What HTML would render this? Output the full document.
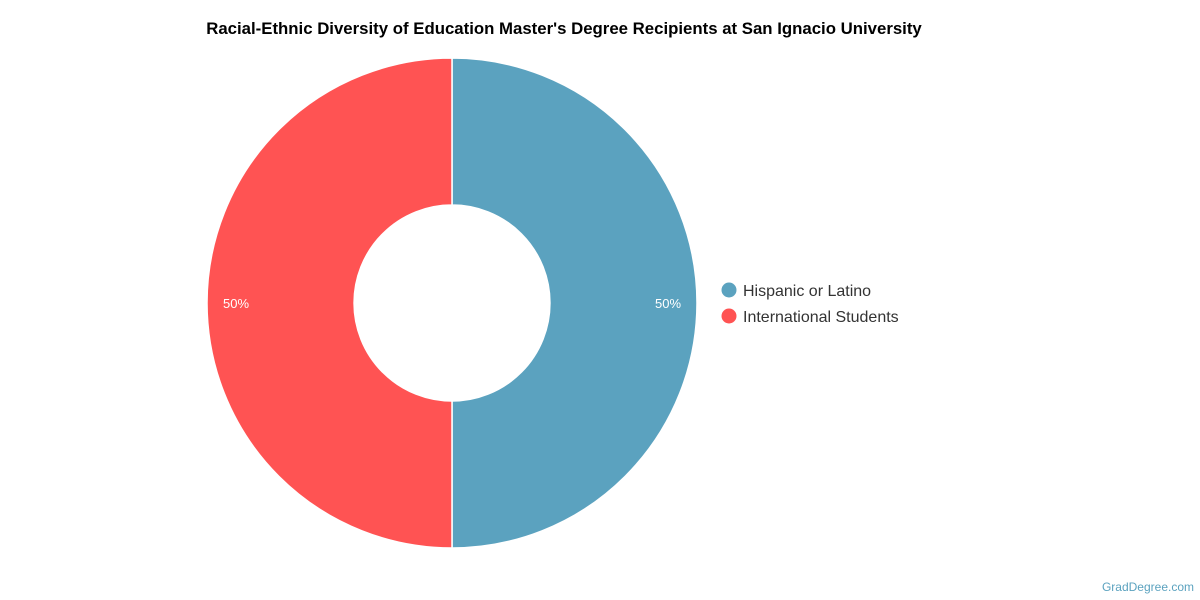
<!DOCTYPE html>
<html><head><meta charset="utf-8"><style>
body{margin:0;background:#fff;}
svg{display:block;font-family:"Liberation Sans",Arial,sans-serif;}
</style></head><body>
<svg width="1200" height="600" viewBox="0 0 1200 600">
<rect width="1200" height="600" fill="#fff"/>
<text x="564" y="34" text-anchor="middle" font-size="16.8" font-weight="bold" fill="#000">Racial-Ethnic Diversity of Education Master's Degree Recipients at San Ignacio University</text>
<path d="M452 58 A245 245 0 0 1 452 548 L452 401 A98 98 0 0 0 452 205 Z" fill="#5ba2bf" stroke="#fff" stroke-width="1.5"/>
<path d="M452 548 A245 245 0 0 1 452 58 L452 205 A98 98 0 0 0 452 401 Z" fill="#ff5353" stroke="#fff" stroke-width="1.5"/>
<text x="668" y="308" text-anchor="middle" font-size="13" fill="#fff">50%</text>
<text x="236" y="308" text-anchor="middle" font-size="13" fill="#fff">50%</text>
<circle cx="729" cy="290" r="7.5" fill="#5ba2bf"/>
<circle cx="729" cy="316" r="7.5" fill="#ff5353"/>
<text x="743" y="296" font-size="16" fill="#333">Hispanic or Latino</text>
<text x="743" y="322" font-size="16" fill="#333">International Students</text>
<text x="1194" y="591" text-anchor="end" font-size="12" fill="#5ba2bf">GradDegree.com</text>
</svg>
</body></html>
